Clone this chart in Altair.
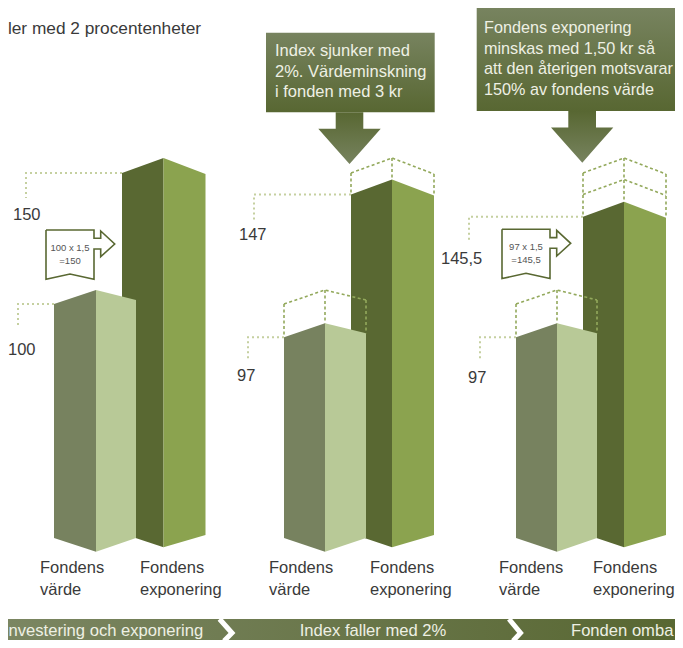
import altair as alt
import pandas as pd

# ---- values ----
fund_value = [100, 97, 97]
fund_exposure = [150, 147, 145.5]
ghost_value = [None, 100, 100]
ghost_exposure = [[], [150], [150, 147]]
value_labels = ["100", "97", "97"]
exposure_labels = ["150", "147", "145,5"]
category_lines = [["Fondens", "värde"], ["Fondens", "exponering"]]
box_texts = [
    ["Index sjunker med", "2%. Värdeminskning", "i fonden med 3 kr"],
    ["Fondens exponering", "minskas med 1,50 kr så", "att den återigen motsvarar", "150% av fondens värde"],
]
strip_texts = ["nvestering och exponering", "Index faller med 2%", "Fonden omba"]
note_texts = [["100 x 1,5", "=150"], ["97 x 1,5", "=145,5"]]
title_text = "ler med 2 procentenheter"

# ---- drawing layout ----
DRAWN_TOP = {150: 158, 147: 179.5, 145.5: 201.7, 100: 290, 97: 323.3}
VAL_X = [(54, 96, 136), (284, 325, 366), (516, 557, 597)]
EXP_X = [(122, 163.5, 205.5), (351, 392, 434), (583, 624, 666)]
VAL_LABEL = [(8, 355), (237, 381), (468, 383)]
EXP_LABEL = [(13, 220), (239, 240), (441, 264)]
VAL_LEAD = [18, 248, 480]
EXP_LEAD = [26, 254, 469]
CAT_X = [(40, 140), (269, 370), (499, 593)]

V_DARK, V_LIGHT = "#77825f", "#b8c997"
E_DARK, E_LIGHT = "#596832", "#8ba34f"
GHOST = "#93a95c"
LEADER = "#c5d0a0"
INK = "#3a3a3a"
PALE = "#eef0e4"
XMIN, XMAX, YMIN, YMAX = 8, 675, 8, 640
X = alt.X("x:Q", scale=alt.Scale(domain=[XMIN, XMAX]), axis=None)
Y = alt.Y("y:Q", scale=alt.Scale(domain=[YMAX, YMIN]), axis=None)
Y2 = alt.Y2("y2")
layers = []


def area(pts, color):
    df = pd.DataFrame(pts, columns=["x", "y", "y2"])
    layers.append(
        alt.Chart(df).mark_area(color=color, orient="vertical")
        .encode(x=X, y=Y, y2=Y2)
    )


def line(pts, color, width=1.5, dash=None):
    df = pd.DataFrame(pts, columns=["x", "y"]).assign(i=range(len(pts)))
    kw = {"strokeDash": dash} if dash else {}
    layers.append(
        alt.Chart(df).mark_line(color=color, strokeWidth=width, **kw)
        .encode(x=X, y=Y, order=alt.Order("i:Q"))
    )


def text(items, size, color, align="left"):
    df = pd.DataFrame(items, columns=["x", "y", "t"])
    layers.append(
        alt.Chart(df).mark_text(font="Liberation Sans", fontSize=size, color=color, align=align, baseline="alphabetic")
        .encode(x=X, y=Y, text="t:N")
    )


def gradient(c1, c2, horizontal=False):
    return alt.Gradient(
        gradient="linear",
        stops=[alt.GradientStop(color=c1, offset=0), alt.GradientStop(color=c2, offset=1)],
        x1=0, x2=1 if horizontal else 0, y1=0, y2=0 if horizontal else 1,
    )


def tops(v, xs, dl, dr):
    p = DRAWN_TOP[v]
    return p + dl, p, p + dr


def ghost(levels, xs, dl, dr, base):
    for v in levels:
        tl, tp, tr = tops(v, xs, dl, dr)
        line([(xs[0], tl), (xs[1], tp), (xs[2], tr)], GHOST, 1.6, [3, 2.5])
    tl, tp, tr = tops(levels[0], xs, dl, dr)
    for i, t in enumerate((tl, tp, tr)):
        line([(xs[i], t), (xs[i], base[i])], GHOST, 1.6, [3, 2.5])


# exposure bars, then value bars in front
for xs, v in zip(EXP_X, fund_exposure):
    tl, tp, tr = tops(v, xs, 15, 16)
    area([(xs[0], tl, 533.5), (xs[1], tp, 547.3)], E_DARK)
    area([(xs[1], tp, 547.3), (xs[2], tr, 535)], E_LIGHT)
for xs, v in zip(VAL_X, fund_value):
    tl, tp, tr = tops(v, xs, 14, 10)
    area([(xs[0], tl, 538), (xs[1], tp, 551.7)], V_DARK)
    area([(xs[1], tp, 551.7), (xs[2], tr, 538)], V_LIGHT)

# earlier levels, drawn as dashed outlines
for xs, v, g in zip(EXP_X, fund_exposure, ghost_exposure):
    if g:
        ghost(g, xs, 15, 16, tops(v, xs, 15, 16))
for xs, v, g in zip(VAL_X, fund_value, ghost_value):
    if g:
        ghost([g], xs, 14, 10, tops(v, xs, 14, 10))

# dotted leaders and value labels
for xs, v, lx in zip(EXP_X, fund_exposure, EXP_LEAD):
    t = tops(v, xs, 15, 16)[0]
    line([(xs[0], t), (lx, t), (lx, t + 25)], LEADER, 2, [2, 3])
for xs, v, lx in zip(VAL_X, fund_value, VAL_LEAD):
    t = tops(v, xs, 14, 10)[0]
    line([(xs[0], t), (lx, t), (lx, t + 24)], LEADER, 2, [2, 3])
text([(p[0], p[1], s) for p, s in zip(VAL_LABEL + EXP_LABEL, value_labels + exposure_labels)], 16.5, INK)

# category labels
cat = []
for a, b in CAT_X:
    for cx, lines in zip((a, b), category_lines):
        cat += [(cx, 573, lines[0]), (cx, 595, lines[1])]
text(cat, 16.5, INK)

# small note arrows
for dx, dy, lines in zip((0, 456), (0, -0.7), note_texts):
    shape = [(46, 230), (94, 230), (94, 238.3), (100.7, 238.3), (100.7, 231), (114.7, 244), (100.7, 256.7),
             (100.7, 249), (94, 249), (94, 279.3), (70, 274), (46, 279.3), (46, 230)]
    line([(x + dx, y + dy) for x, y in shape], E_DARK, 1.6)
    text([(70 + dx, 251 + dy, lines[0]), (70 + dx, 263.5 + dy, lines[1])], 9.5, "#555555", "center")

# callout boxes with arrows
BOX_TOP, BOX_BOTTOM = "#77835f", "#586732"
for (x0, x1, y0, y1), (s0, s1, h0, h1, tip, ytip), tx, ty, size, lines in [
    ((266, 434.7, 32.7, 112.3), (335.7, 363.3, 318.3, 380.7, 349.5, 164), 275, 56, 16.5, box_texts[0]),
    ((476.7, 675, 8, 111), (568.3, 596, 551, 613.3, 582.3, 162.7), 484, 33, 16.2, box_texts[1]),
]:
    area([(x0, y0, y1), (x1, y0, y1)], gradient(BOX_TOP, BOX_BOTTOM))
    yh = y1 + 16.5
    ys = yh + (ytip - yh) * (s0 - h0) / (tip - h0)
    area([(h0, yh, yh), (s0, yh, ys), (s0, y1, ys), (tip, y1, ytip), (s1, y1, ys), (s1, yh, ys), (h1, yh, yh)],
         gradient(BOX_BOTTOM, BOX_TOP))
    text([(tx, ty + i * 20.6, s) for i, s in enumerate(lines)], size, PALE)

# bottom strip (kept inside the drawing area)
STRIP_TOP, STRIP_BOTTOM = 619, 640
area([(XMIN, STRIP_TOP, STRIP_BOTTOM), (XMAX, STRIP_TOP, STRIP_BOTTOM)], gradient("#7b8662", "#586732", True))
line([(219.5, STRIP_TOP), (232, STRIP_TOP + 14), (224, STRIP_BOTTOM + 1)], "#ffffff", 5)
line([(509, STRIP_TOP), (520.5, STRIP_TOP + 14), (513, STRIP_BOTTOM + 1)], "#ffffff", 5)
text([(8.5, 636, strip_texts[0])], 16.6, PALE)
text([(373, 636, strip_texts[1])], 16.6, PALE, "center")
text([(571, 636, strip_texts[2])], 16.6, PALE)

# heading
text([(201, 34, title_text)], 17.3, INK, "right")

chart = (
    alt.layer(*layers)
    .properties(width=XMAX - XMIN, height=YMAX - YMIN, padding=0, autosize="none", background="white")
    .configure_view(stroke=None)
)
chart.save("out.html", embed_options={"renderer": "svg", "actions": False})
